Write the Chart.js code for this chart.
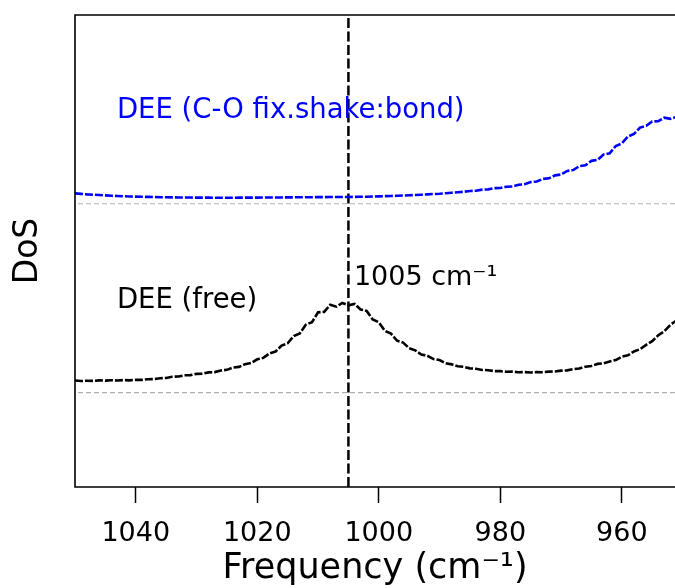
<!DOCTYPE html>
<html>
<head>
<meta charset="utf-8">
<script src="https://cdn.jsdelivr.net/npm/chart.js@4/dist/chart.umd.min.js"></script>
<style>
  html, body { margin: 0; padding: 0; background: #fff; overflow: hidden; }
  canvas { display: block; }
</style>
</head>
<body>
<canvas id="c" width="675" height="588"></canvas>
<script>
// ---- Data ----
const freq = [1050,1049,1048,1047,1046,1045,1044,1043,1042,1041,1040,1039,1038,1037,1036,1035,1034,1033,1032,1031,1030,1029,1028,1027,1026,1025,1024,1023,1022,1021,1020,1019,1018,1017,1016,1015,1014,1013,1012,1011,1010,1009,1008,1007,1006,1005,1004,1003,1002,1001,1000,999,998,997,996,995,994,993,992,991,990,989,988,987,986,985,984,983,982,981,980,979,978,977,976,975,974,973,972,971,970,969,968,967,966,965,964,963,962,961,960,959,958,957,956,955,954,953,952,951,950];

const dosFree = [2.255,2.245,2.252,2.248,2.258,2.254,2.263,2.257,2.266,2.26,2.27,2.269,2.284,2.286,2.305,2.31,2.336,2.34,2.366,2.37,2.396,2.4,2.428,2.434,2.468,2.482,2.53,2.545,2.602,2.628,2.705,2.735,2.83,2.87,2.995,3.045,3.2,3.255,3.44,3.49,3.7,3.71,3.86,3.82,3.9,3.85,3.88,3.76,3.73,3.55,3.49,3.31,3.25,3.1,3.06,2.94,2.895,2.805,2.78,2.71,2.69,2.622,2.598,2.558,2.546,2.514,2.505,2.48,2.475,2.456,2.454,2.441,2.444,2.432,2.434,2.427,2.433,2.432,2.444,2.447,2.465,2.471,2.496,2.51,2.548,2.563,2.608,2.618,2.66,2.69,2.762,2.79,2.872,2.92,3.012,3.09,3.215,3.3,3.435,3.53,3.675];

const dosShake = [6.222,6.21,6.2,6.193,6.185,6.178,6.17,6.165,6.16,6.156,6.152,6.149,6.146,6.143,6.14,6.138,6.136,6.134,6.133,6.132,6.131,6.13,6.13,6.129,6.129,6.128,6.129,6.13,6.13,6.131,6.131,6.132,6.133,6.134,6.135,6.136,6.137,6.138,6.139,6.14,6.141,6.142,6.143,6.143,6.144,6.145,6.146,6.148,6.15,6.154,6.158,6.162,6.166,6.17,6.175,6.181,6.187,6.193,6.2,6.207,6.214,6.224,6.235,6.245,6.255,6.272,6.276,6.3,6.306,6.332,6.336,6.362,6.366,6.402,6.414,6.46,6.472,6.527,6.54,6.603,6.62,6.695,6.716,6.798,6.815,6.91,6.93,7.045,7.07,7.225,7.28,7.425,7.48,7.615,7.65,7.745,7.75,7.825,7.8,7.84,7.79];

const baselineFree = 2;
const baselineShake = 6;
const peakFreq = 1005;
const xTicks = [1040, 1020, 1000, 980, 960];
const xRange = [951.25, 1050];
const yRange = [0, 10];

const labelShake = "DEE (C-O fix.shake:bond)";
const labelFree = "DEE (free)";
const labelPeak = "1005 cm\u207B\u00B9";
const xTitle = "Frequency (cm\u207B\u00B9)";
const yTitle = "DoS";

// ---- Build datasets ----
const toXY = (ys) => freq.map((f, i) => ({ x: f, y: ys[i] }));
const hline = (v) => [{ x: xRange[0], y: v }, { x: xRange[1], y: v }];

const FONT = "'DejaVu Sans', 'Liberation Sans', sans-serif";

const framePlugin = {
  id: 'frameAndNotes',
  afterDatasetsDraw(chart) {
    const { ctx, chartArea: a, scales: { x, y } } = chart;
    ctx.save();
    ctx.strokeStyle = '#000';
    ctx.lineWidth = 1.6;
    ctx.beginPath();
    ctx.moveTo(a.right + 2, a.top);
    ctx.lineTo(a.left, a.top);
    ctx.lineTo(a.left, a.bottom);
    ctx.lineTo(a.right + 2, a.bottom);
    ctx.stroke();
    ctx.font = "27.5px " + FONT;
    ctx.textAlign = 'left';
    ctx.textBaseline = 'alphabetic';
    ctx.fillStyle = '#0000ff';
    ctx.fillText(labelShake, x.getPixelForValue(1043.1), y.getPixelForValue(7.81));
    ctx.fillStyle = '#000';
    ctx.fillText(labelFree, x.getPixelForValue(1043.1), y.getPixelForValue(3.80));
    ctx.font = "27px " + FONT;
    ctx.fillText(labelPeak, x.getPixelForValue(1004.1), y.getPixelForValue(4.27));
    ctx.restore();
  }
};

new Chart(document.getElementById('c'), {
  type: 'scatter',
  data: {
    datasets: [
      { data: hline(baselineFree), showLine: true, borderColor: '#b0b0b0', borderWidth: 1.1, borderDash: [5, 3], pointRadius: 0 },
      { data: hline(baselineShake), showLine: true, borderColor: '#b0b0b0', borderWidth: 1.1, borderDash: [5, 3], pointRadius: 0 },
      { data: toXY(dosFree), showLine: true, borderColor: '#000000', borderWidth: 2.6, borderDash: [8, 2], pointRadius: 0, tension: 0 },
      { data: toXY(dosShake), showLine: true, borderColor: '#0000ff', borderWidth: 2.6, borderDash: [8, 2], pointRadius: 0, tension: 0 },
      { data: [{ x: peakFreq, y: yRange[0] }, { x: peakFreq, y: yRange[1] - 0.06 }], showLine: true, borderColor: '#000', borderWidth: 2.5, borderDash: [10, 3.5], pointRadius: 0 }
    ]
  },
  options: {
    responsive: false,
    animation: false,
    devicePixelRatio: 1,
    events: [],
    layout: { padding: { left: 0, top: 15, right: 0, bottom: 0 } },
    plugins: { legend: { display: false }, tooltip: { enabled: false } },
    scales: {
      x: {
        type: 'linear',
        reverse: true,
        min: xRange[0],
        max: xRange[1],
        afterBuildTicks: (s) => { s.ticks = xTicks.map(v => ({ value: v })); },
        border: { display: false },
        grid: { display: true, drawOnChartArea: false, drawTicks: true, tickLength: 16, tickColor: '#000', tickWidth: 1.5, color: '#000' },
        ticks: { color: '#000', font: { family: FONT, size: 27 }, padding: 15, maxRotation: 0, autoSkip: false, callback: (v) => String(v) },
        title: { display: true, text: xTitle, color: '#000', font: { family: FONT, size: 35 }, padding: { top: -17.4, bottom: -2 } }
      },
      y: {
        type: 'linear',
        min: yRange[0],
        max: yRange[1],
        border: { display: false },
        grid: { display: false, drawTicks: false },
        ticks: { display: false },
        title: { display: true, text: yTitle, color: '#000', font: { family: FONT, size: 33 }, padding: { top: 9, bottom: 26.4 } }
      }
    }
  },
  plugins: [framePlugin]
});
</script>
</body>
</html>
